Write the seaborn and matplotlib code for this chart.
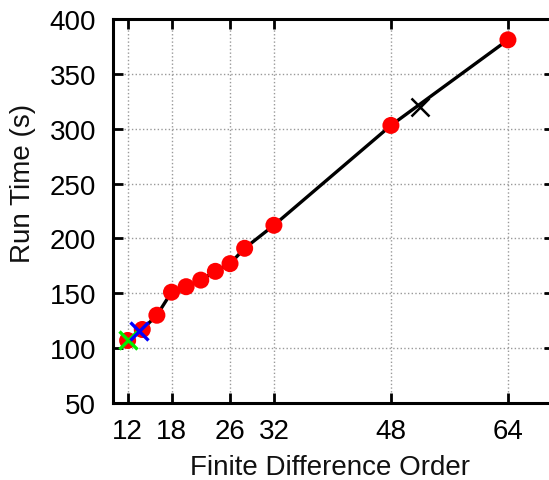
import matplotlib
matplotlib.use("Agg")
import matplotlib.pyplot as plt
import seaborn as sns
import pandas as pd

# Run time vs. finite difference order
orders = [12, 14, 16, 18, 20, 22, 24, 26, 28, 32, 48, 64]
run_times = [107, 117, 130, 151, 156, 162, 170, 177, 191, 212, 303, 381]

# Highlighted configurations
green_pt = (12, 107)
blue_pt = (13.6, 116)
black_pt = (52, 320)

x_ticks = [12, 18, 26, 32, 48, 64]
y_ticks = [50, 100, 150, 200, 250, 300, 350, 400]

sns.set_style("ticks")
plt.rcParams["font.family"] = ["Liberation Sans", "DejaVu Sans"]

df = pd.DataFrame({"order": orders, "time": run_times})

fig = plt.figure(figsize=(5.49, 4.81), dpi=100)
# the axes box runs past the right edge of the canvas
ax = fig.add_axes([113 / 549, 77 / 481, 441 / 549, 384 / 481])

sns.lineplot(data=df, x="order", y="time", ax=ax, color="black", lw=2.4,
             zorder=2)
sns.scatterplot(data=df, x="order", y="time", ax=ax, color="red", s=150,
                edgecolor="none", zorder=3)
ax.plot(*green_pt, marker="x", color="#00ee00", ms=13, mew=2.4, ls="none",
        zorder=4)
ax.plot(*blue_pt, marker="x", color="blue", ms=13, mew=2.4, ls="none",
        zorder=4)
ax.plot(*black_pt, marker="x", color="black", ms=13, mew=1.8, ls="none",
        zorder=4)

ax.set_xlim(10, 70.3)
ax.set_ylim(50, 400)
ax.set_xticks(x_ticks)
ax.set_yticks(y_ticks)
ax.grid(True, color="#999999", ls=":", lw=1.0)
ax.tick_params(direction="in", length=7, width=2, top=True, right=True,
               labelsize=20, colors="black")
ax.tick_params(axis="x", pad=11)
ax.tick_params(axis="y", pad=12)
for s in ax.spines.values():
    s.set_linewidth(2.2)
    s.set_color("black")

ax.set_xlabel("Finite Difference Order", fontsize=20, color="#111111",
              va="center")
ax.set_ylabel("Run Time (s)", fontsize=20, color="#111111", va="center")
ax.xaxis.set_label_coords(0.50 * 435 / 441, -0.167)
ax.yaxis.set_label_coords(-0.207 * 435 / 441, 0.575)

fig.savefig("out.png", dpi=100)
